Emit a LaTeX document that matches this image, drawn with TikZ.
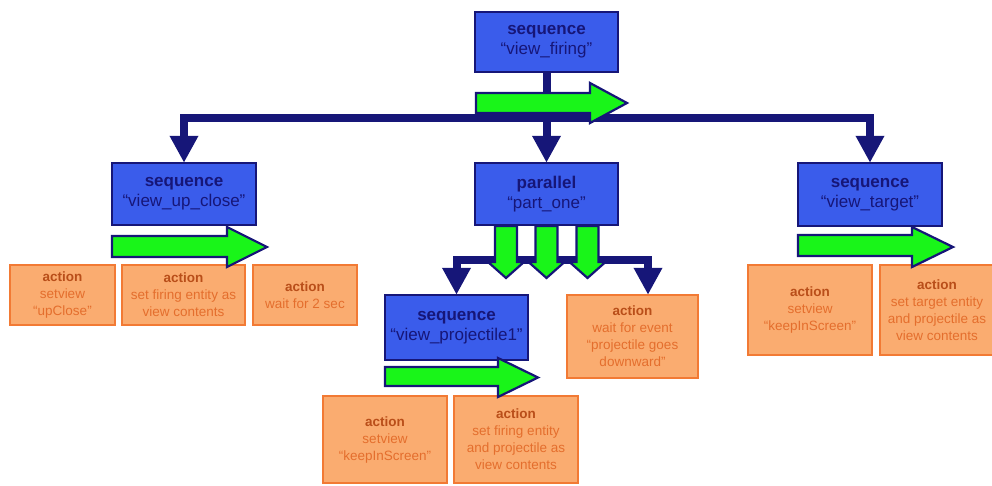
\documentclass[tikz,border=0pt]{standalone}
\usepackage{fontspec}
\setmainfont{Liberation Sans}
\usetikzlibrary{arrows.meta}
\definecolor{seqblue}{RGB}{58,92,235}
\definecolor{navy}{RGB}{22,22,120}
\definecolor{arrgreen}{RGB}{25,245,25}
\definecolor{actfill}{RGB}{250,172,112}
\definecolor{actborder}{RGB}{242,122,52}
\definecolor{acthead}{RGB}{185,78,25}
\definecolor{acttext}{RGB}{228,110,45}
\begin{document}
\begin{tikzpicture}[x=1pt,y=-1pt,
  seqbox/.style={draw=navy, line width=2.5pt, fill=seqblue, text=navy, align=center,
    font=\fontsize{17}{20}\selectfont, inner sep=0pt},
  actbox/.style={draw=actborder, line width=2.5pt, fill=actfill, text=acttext, align=center,
    font=\fontsize{13.5}{17}\selectfont, inner sep=0pt},
  bus/.style={draw=navy, line width=8pt, line join=miter},
  busarrow/.style={bus, -{Triangle[length=27pt,width=27pt]}, shorten >=-1pt},
  flow/.style={draw=navy, line width=2.2pt, fill=arrgreen, line join=miter}
]
\useasboundingbox (0,0) rectangle (992,485);

% sequence / parallel nodes
\node[seqbox, minimum width=143pt, minimum height=60pt] (top) at (546.5,42) {\textbf{sequence}\\“view\_firing”};
\node[seqbox, minimum width=144pt, minimum height=62pt] (left) at (184,194) {\textbf{sequence}\\“view\_up\_close”};
\node[seqbox, minimum width=143pt, minimum height=62pt] (mid) at (546.5,194) {\textbf{parallel}\\“part\_one”};
\node[seqbox, minimum width=144pt, minimum height=63pt] (right) at (870,194.5) {\textbf{sequence}\\“view\_target”};
\node[seqbox, minimum width=143pt, minimum height=65pt] (proj) at (456.5,327.5) {\textbf{sequence}\\“view\_projectile1”};

% action nodes
\node[actbox, minimum width=105pt, minimum height=60pt] (l1) at (62.5,295) {\textcolor{acthead}{\textbf{action}}\\setview\\“upClose”};
\node[actbox, minimum width=123pt, minimum height=60pt] (l2) at (183.5,295) {\textcolor{acthead}{\textbf{action}}\\set firing entity as\\view contents};
\node[actbox, minimum width=104pt, minimum height=60pt] (l3) at (305,295) {\textcolor{acthead}{\textbf{action}}\\wait for 2 sec};
\node[actbox, minimum width=131pt, minimum height=83pt] (wait) at (632.5,336.5) {\textcolor{acthead}{\textbf{action}}\\wait for event\\“projectile goes\\downward”};
\node[actbox, minimum width=124pt, minimum height=87pt] (b1) at (385,439.5) {\textcolor{acthead}{\textbf{action}}\\setview\\“keepInScreen”};
\node[actbox, minimum width=124pt, minimum height=87pt] (b2) at (516,439.5) {\textcolor{acthead}{\textbf{action}}\\set firing entity\\and projectile as\\view contents};
\node[actbox, minimum width=124pt, minimum height=90pt] (r1) at (810,310) {\textcolor{acthead}{\textbf{action}}\\setview\\“keepInScreen”};
\node[actbox, minimum width=114pt, minimum height=90pt] (r2) at (937,310) {\textcolor{acthead}{\textbf{action}}\\set target entity\\and projectile as\\view contents};

% top bus
\coordinate (bus1) at (546.5,117.5);
\draw[bus] (top.south) -- (bus1);
\draw[busarrow] (bus1) -| (left.north);
\draw[busarrow] (bus1) -- (mid.north);
\draw[busarrow] (bus1) -| (right.north);

% middle bus
\coordinate (bus2) at (546.5,260);
\coordinate (bus2R) at (648,260);
\draw[bus] (mid.south) -- (bus2);
\draw[busarrow] (bus2) -| (proj.north);
\draw[busarrow] (bus2) -| (bus2R |- wait.north);

% green sequence arrows
\draw[flow] (476,93) -- (590,93) -- (590,83) -- (627,103) -- (590,123) -- (590,113) -- (476,113) -- cycle;
\draw[flow] (112,236) -- (227,236) -- (227,227) -- (267,247) -- (227,267) -- (227,257) -- (112,257) -- cycle;
\draw[flow] (798,235) -- (912,235) -- (912,227) -- (953,247) -- (912,267) -- (912,256) -- (798,256) -- cycle;
\draw[flow] (385,367) -- (498,367) -- (498,358) -- (538,377.5) -- (498,397) -- (498,386) -- (385,386) -- cycle;

% green parallel arrows
\foreach \cx in {506,546.5,587.5} {
  \draw[flow] (\cx-11,226) -- (\cx+11,226) -- (\cx+11,262) -- (\cx+18,262) -- (\cx,278) -- (\cx-18,262) -- (\cx-11,262) -- cycle;
}
\end{tikzpicture}
\end{document}
